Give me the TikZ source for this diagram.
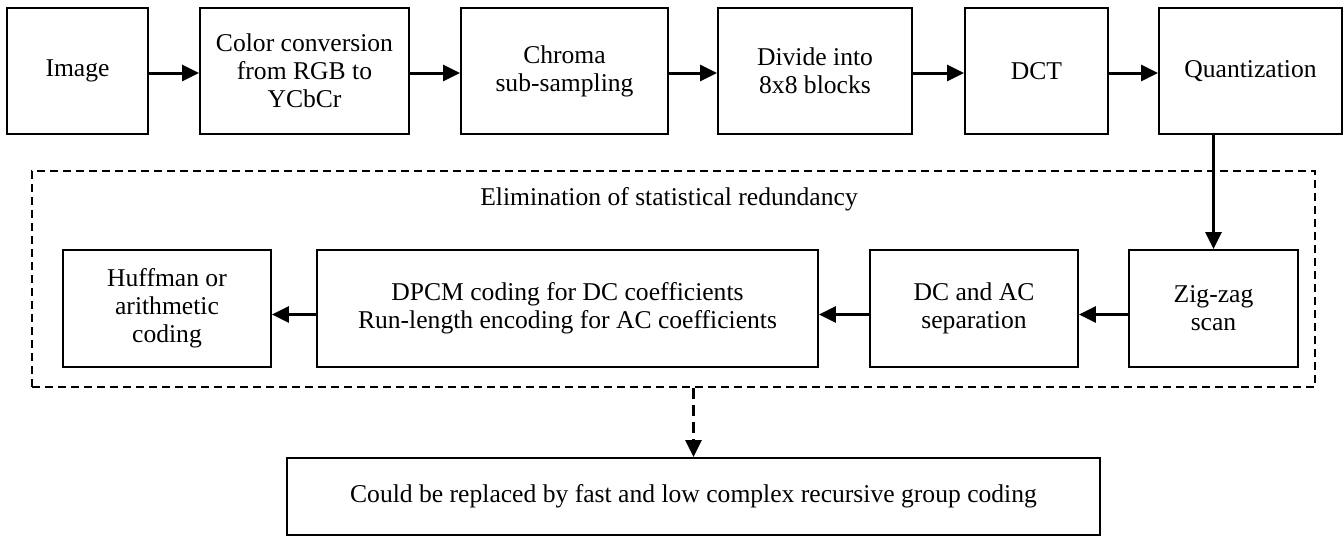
\documentclass[tikz,border=0pt]{standalone}
\usepackage{fontspec}
\setmainfont{Liberation Serif}
\usetikzlibrary{arrows.meta}

\begin{document}
\begin{tikzpicture}[x=0.5pt,y=-0.5pt,
	font=\fontsize{12.8}{14}\selectfont,
	block/.style={draw=black, line width=0.9pt, align=center, minimum height=63pt, inner sep=2pt},
	lowblock/.style={block, minimum height=58.5pt},
	arr/.style={-{Triangle[length=8.5pt,width=8pt]}, line width=1.5pt},
	dasharr/.style={arr, dash pattern=on 5.5pt off 3pt},
	frame/.style={draw=black, line width=0.9pt, dash pattern=on 4pt off 2.5pt, inner sep=0pt}
	]
	\useasboundingbox (0,0) rectangle (1344,536);
	% top row
	\node[block, minimum width=70.5pt] (img) at (77.5,71) {Image};
	\node[block, minimum width=104.5pt] (conv) at (304.5,71) {Color conversion\\from RGB to\\YCbCr};
	\node[block, minimum width=103.5pt] (chroma) at (564.5,71) {Chroma\\sub-sampling};
	\node[block, minimum width=97pt] (divide) at (815,71) {Divide into\\8x8 blocks};
	\node[block, minimum width=71.5pt] (dct) at (1036.5,71) {DCT};
	\node[block, minimum width=91.5pt] (quant) at (1250.5,71) {Quantization};
	% entropy coding part
	\node[frame, minimum width=641.5pt, minimum height=108pt] (frame) at (673.5,279) {};
	\node (elim) at (669,199) {Elimination of statistical redundancy};
	\node[lowblock, minimum width=104pt] (huff) at (167,308.5) {Huffman or\\arithmetic\\coding};
	\node[lowblock, minimum width=250.5pt] (dpcm) at (567.5,308.5) {DPCM coding for DC coefficients\\Run-length encoding for AC coefficients};
	\node[lowblock, minimum width=104pt] (sep) at (974,308.5) {DC and AC\\separation};
	\node[lowblock, minimum width=84.5pt] (zig) at (1213.5,308.5) {Zig-zag\\scan};
	\node[block, minimum width=406.5pt, minimum height=38.5pt] (rgc) at (693.5,496.5) {Could be replaced by fast and low complex recursive group coding};
	\draw[arr] ([yshift=-1pt]img.east) -- ([yshift=-1pt]conv.west);
	\draw[arr] ([yshift=-1pt]conv.east) -- ([yshift=-1pt]chroma.west);
	\draw[arr] ([yshift=-1pt]chroma.east) -- ([yshift=-1pt]divide.west);
	\draw[arr] ([yshift=-1pt]divide.east) -- ([yshift=-1pt]dct.west);
	\draw[arr] ([yshift=-1pt]dct.east) -- ([yshift=-1pt]quant.west);
	\draw[arr] (quant.south -| zig.north) -- (zig.north);
	\draw[arr] ([yshift=-3pt]zig.west) -- ([yshift=-3pt]sep.east);
	\draw[arr] ([yshift=-3pt]sep.west) -- ([yshift=-3pt]dpcm.east);
	\draw[arr] ([yshift=-3pt]dpcm.west) -- ([yshift=-3pt]huff.east);
	\draw[dasharr] (frame.south -| rgc.north) -- (rgc.north);
\end{tikzpicture}
\end{document}
